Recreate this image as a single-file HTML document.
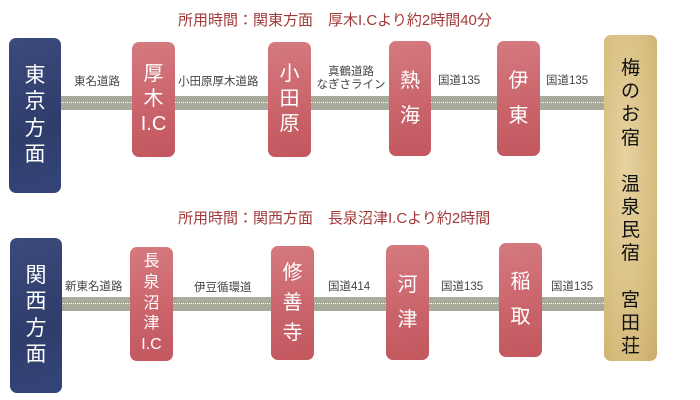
<!DOCTYPE html>
<html><head><meta charset="utf-8"><style>
body{margin:0;width:700px;height:400px;background:#fff;position:relative;overflow:hidden;font-family:"Liberation Sans","Noto Sans CJK JP",sans-serif}
.t{position:absolute;color:#a33a3a;font-size:15px;white-space:nowrap}
.road{position:absolute;height:14px;background:#a9a99c}
.road:after{content:"";position:absolute;left:0;right:0;top:6px;border-top:1px dotted #fff}
.box{position:absolute;border-radius:7px;color:#fff;text-align:center;display:flex;flex-direction:column;justify-content:center;align-items:center;line-height:1.25}
.blue{background:linear-gradient(160deg,#3b4a7c,#2f3d6c 60%,#35457a);font-size:21px}
.red{background:linear-gradient(170deg,#d57a7f,#c9636a 60%,#c3575e);font-size:20px}
.lbl{position:absolute;font-size:11.5px;color:#444;white-space:nowrap;text-align:center;line-height:13px}
.gold{background:radial-gradient(ellipse at 40% 40%,#e6d3a0,#d6bb7c 70%,#c9ab6a);color:#111;font-size:19px;line-height:1.22;justify-content:flex-start;padding-top:22px;box-sizing:border-box}
</style></head><body>
<div class="t" style="left:178px;top:9px">所用時間：関東方面　厚木I.Cより約2時間40分</div>
<div class="t" style="left:178px;top:207px">所用時間：関西方面　長泉沼津I.Cより約2時間</div>

<div class="road" style="left:60px;top:96px;width:546px"></div>
<div class="road" style="left:60px;top:297px;width:546px"></div>

<div class="lbl" style="left:74px;top:76px">東名道路</div>
<div class="lbl" style="left:178px;top:76px">小田原厚木道路</div>
<div class="lbl" style="left:313px;top:66px;width:76px">真鶴道路<br>なぎさライン</div>
<div class="lbl" style="left:438px;top:75px">国道135</div>
<div class="lbl" style="left:546px;top:75px">国道135</div>

<div class="lbl" style="left:65px;top:281px">新東名道路</div>
<div class="lbl" style="left:194px;top:282px">伊豆循環道</div>
<div class="lbl" style="left:328px;top:281px">国道414</div>
<div class="lbl" style="left:441px;top:281px">国道135</div>
<div class="lbl" style="left:551px;top:281px">国道135</div>

<div class="box blue" style="left:9px;top:38px;width:52px;height:155px">東<br>京<br>方<br>面</div>
<div class="box red" style="left:132px;top:42px;width:43px;height:115px">厚<br>木<br>I.C</div>
<div class="box red" style="left:268px;top:42px;width:43px;height:115px">小<br>田<br>原</div>
<div class="box red" style="left:389px;top:41px;width:42px;height:115px;line-height:1.75">熱<br>海</div>
<div class="box red" style="left:497px;top:41px;width:43px;height:115px;line-height:1.75">伊<br>東</div>

<div class="box blue" style="left:10px;top:238px;width:52px;height:155px">関<br>西<br>方<br>面</div>
<div class="box red" style="left:130px;top:247px;width:43px;height:114px;font-size:16px;line-height:1.3">長<br>泉<br>沼<br>津<br>I.C</div>
<div class="box red" style="left:271px;top:246px;width:43px;height:114px;line-height:1.5">修<br>善<br>寺</div>
<div class="box red" style="left:386px;top:245px;width:43px;height:115px;line-height:1.75">河<br>津</div>
<div class="box red" style="left:499px;top:243px;width:43px;height:114px;line-height:1.75">稲<br>取</div>

<div class="box gold" style="left:604px;top:35px;width:53px;height:326px">梅<br>の<br>お<br>宿<br><br>温<br>泉<br>民<br>宿<br><br>宮<br>田<br>荘</div>
</body></html>
